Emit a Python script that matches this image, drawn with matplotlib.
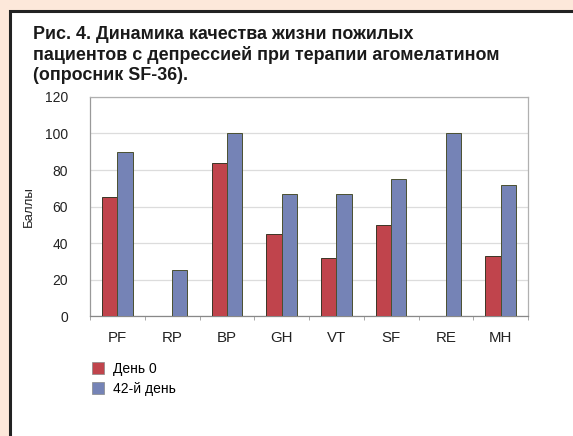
import matplotlib
matplotlib.use("Agg")
import matplotlib.pyplot as plt
import numpy as np
from matplotlib.patches import Rectangle
from matplotlib.lines import Line2D

categories = ["PF", "RP", "BP", "GH", "VT", "SF", "RE", "MH"]
day0 = [65, 0, 84, 45, 32, 50, 0, 33]
day42 = [90, 25, 100, 67, 67, 75, 100, 72]
series_labels = ["День 0", "42-й день"]
yticks = [0, 20, 40, 60, 80, 100, 120]
title = "Рис. 4. Динамика качества жизни пожилых\nпациентов с депрессией при терапии агомелатином\n(опросник SF-36)."
ylabel = "Баллы"

plt.rcParams['font.family'] = ['Liberation Sans', 'DejaVu Sans']

W, H = 573, 436
fig = plt.figure(figsize=(W / 100, H / 100), dpi=100)
fig.patch.set_facecolor('#fde8da')

# white panel with dark border
panel = Rectangle((9.5 / W, -0.01), 1.0, (H - 11.5) / H + 0.01, transform=fig.transFigure,
                  facecolor='white', edgecolor='#222222', linewidth=2.2, zorder=-5)
fig.patches.append(panel)

fig.text(33 / W, 1 - 26 / H, title, ha='left', va='top', fontsize=12.9,
         fontweight='bold', color='#1a1a1a', linespacing=1.24)

ax = fig.add_axes([90 / W, 1 - 316 / H, (528 - 90) / W, (316 - 97) / H], zorder=2)
ax.set_facecolor('white')
x = np.arange(len(categories))
bw = 0.28
red = '#c0444c'
blue = '#7583b6'
ax.bar(x - bw / 2, day0, bw, color=red, edgecolor='#3b3526', linewidth=0.7, zorder=3, label=series_labels[0])
ax.bar(x + bw / 2, day42, bw, color=blue, edgecolor='#4a5030', linewidth=0.7, zorder=3, label=series_labels[1])

ax.set_xlim(-0.5, len(categories) - 0.5)
ax.set_ylim(0, 120)
ax.set_yticks(yticks)
ax.set_yticklabels([str(v) for v in yticks], fontsize=10, color='#222222')
ax.set_xticks(x)
ax.set_xticklabels(categories, fontsize=10.8, color='#222222')
ax.tick_params(axis='x', which='major', length=0, pad=11)
ax.tick_params(axis='y', which='major', length=0, pad=16)
ax.set_xticks(np.arange(-0.5, len(categories), 1.0), minor=True)
ax.tick_params(axis='x', which='minor', length=3, color='#999999', direction='out')
ax.yaxis.grid(True, color='#dcdcdc', linewidth=0.9, zorder=0)
ax.set_axisbelow(True)
for s in ax.spines.values():
    s.set_color('#b0b0b0')
    s.set_linewidth(0.9)
ax.spines['bottom'].set_color('#888888')
ax.spines['left'].set_color('#999999')
ax.set_ylabel(ylabel, fontsize=9.5, color='#222222', labelpad=7)

handles = [Line2D([], [], marker='s', linestyle='none', markersize=9, markerfacecolor=red,
                  markeredgecolor='#888888', markeredgewidth=0.5),
           Line2D([], [], marker='s', linestyle='none', markersize=9, markerfacecolor=blue,
                  markeredgecolor='#888888', markeredgewidth=0.5)]
fig.legend(handles, series_labels, loc='upper left', bbox_to_anchor=(90 / W, 1 - 362 / H),
           frameon=False, fontsize=10, handletextpad=0.45, labelspacing=0.4,
           handlelength=1.2, borderaxespad=0, borderpad=0)

fig.savefig('out.png', dpi=100, facecolor=fig.get_facecolor())
